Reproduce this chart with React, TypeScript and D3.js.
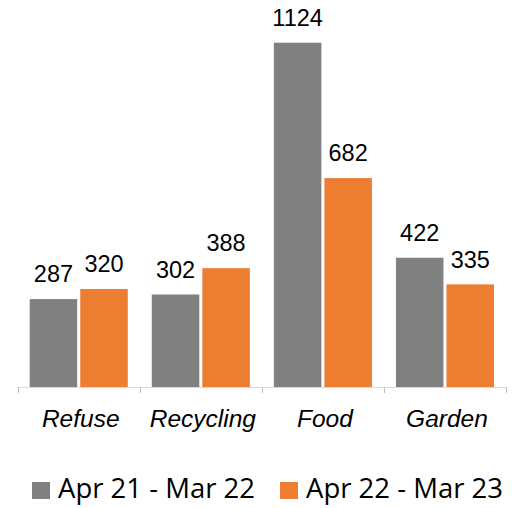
import { useEffect, useRef } from 'react';
import * as d3 from 'd3';

const categories = ['Refuse', 'Recycling', 'Food', 'Garden'];
const seriesNames = ['Apr 21 - Mar 22', 'Apr 22 - Mar 23'];
const period1 = [287, 302, 1124, 422];
const period2 = [320, 388, 682, 335];
const colors = ['#808080', '#ED7D31'];

const App = () => {
  const chartRef = useRef<SVGSVGElement>(null);

  useEffect(() => {
    const svg = d3.select(chartRef.current);
    svg.selectAll('*').remove();

    const width = 531;
    const height = 508;
    const baseY = 387;
    const left = 17.7;
    const right = 506;

    const data = categories.map((c, i) => ({ cat: c, values: [period1[i], period2[i]] }));

    // scales
    const x0 = d3.scaleBand().domain(categories).range([left, right]).padding(0);
    const x1 = d3
      .scaleBand()
      .domain(['0', '1'])
      .range([12, x0.bandwidth() - 12])
      .paddingInner(0.06);
    const y = d3.scaleLinear().domain([0, 1200]).range([baseY, baseY - 1200 * 0.3063]);

    // bars
    const groups = svg
      .selectAll('g.cat')
      .data(data)
      .enter()
      .append('g')
      .attr('class', 'cat')
      .attr('transform', (d) => `translate(${x0(d.cat)},0)`);

    groups
      .selectAll('rect')
      .data((d) => d.values)
      .enter()
      .append('rect')
      .attr('x', (d, i) => x1(String(i))!)
      .attr('y', (d) => y(d))
      .attr('width', x1.bandwidth())
      .attr('height', (d) => baseY - y(d))
      .attr('fill', (d, i) => colors[i]);

    // value labels
    groups
      .selectAll('text.val')
      .data((d) => d.values)
      .enter()
      .append('text')
      .attr('class', 'val')
      .attr('x', (d, i) => x1(String(i))! + x1.bandwidth() / 2)
      .attr('y', (d) => y(d) - 16.7)
      .attr('text-anchor', 'middle')
      .attr('font-family', 'Liberation Sans, Arial, sans-serif')
      .attr('font-size', 23.5)
      .attr('fill', '#000')
      .text((d) => d);

    // x axis
    svg
      .append('line')
      .attr('x1', left)
      .attr('x2', right)
      .attr('y1', baseY + 0.5)
      .attr('y2', baseY + 0.5)
      .attr('stroke', '#d9d9d9')
      .attr('stroke-width', 1);

    const tickPos = categories.map((c) => x0(c)!).concat([right]);
    svg
      .selectAll('line.tick')
      .data(tickPos)
      .enter()
      .append('line')
      .attr('class', 'tick')
      .attr('x1', (d) => Math.round(d) + 0.5)
      .attr('x2', (d) => Math.round(d) + 0.5)
      .attr('y1', baseY)
      .attr('y2', baseY + 6)
      .attr('stroke', '#bfbfbf');

    svg
      .selectAll('text.cat')
      .data(categories)
      .enter()
      .append('text')
      .attr('class', 'cat')
      .attr('x', (d) => x0(d)! + x0.bandwidth() / 2 + 2)
      .attr('y', 426.7)
      .attr('text-anchor', 'middle')
      .attr('font-family', 'Liberation Sans, Arial, sans-serif')
      .attr('font-style', 'italic')
      .attr('font-size', 24.5)
      .attr('fill', '#000')
      .text((d) => d);

    // legend
    const legendX = [32, 280];
    const legend = svg
      .selectAll('g.legend')
      .data(seriesNames)
      .enter()
      .append('g')
      .attr('class', 'legend')
      .attr('transform', (d, i) => `translate(${legendX[i]},0)`);

    legend
      .append('rect')
      .attr('x', 0)
      .attr('y', 482)
      .attr('width', 18)
      .attr('height', 17)
      .attr('fill', (d, i) => colors[i]);

    legend
      .append('text')
      .attr('x', 26)
      .attr('y', 498.3)
      .attr('font-family', 'Open Sans, sans-serif')
      .attr('font-size', 27.5)
      .attr('fill', '#000')
      .text((d) => d);

    svg.attr('width', width).attr('height', height);
  }, []);

  return (
    <div style={{ position: 'absolute', left: 0, top: 0 }}>
      <svg ref={chartRef} width={531} height={508} style={{ display: 'block' }}></svg>
    </div>
  );
};

export default App;
